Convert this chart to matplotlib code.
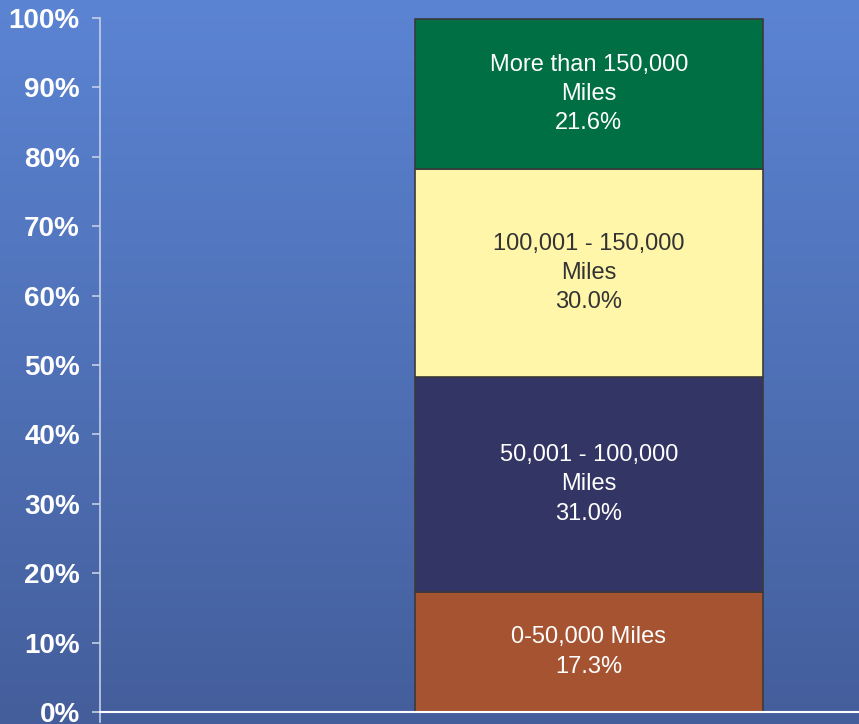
# Stacked share of vehicles by odometer mileage

import numpy as np
import matplotlib.pyplot as plt

plt.rcParams['font.family'] = ['Liberation Sans', 'DejaVu Sans']

# Data
segments = ['0-50,000 Miles', '50,001 - 100,000\nMiles',
            '100,001 - 150,000\nMiles', 'More than 150,000\nMiles']
shares = [17.3, 31.0, 30.0, 21.6]
colors = ['#a65332', '#333564', '#fff6aa', '#006f44']
text_colors = ['white', 'white', '#333333', 'white']

fig = plt.figure(figsize=(8.59, 7.24), dpi=100)

# Blue gradient backdrop
bg = fig.add_axes([0, 0, 1, 1], zorder=0)
grad = np.linspace(0, 1, 256).reshape(-1, 1)
top = np.array([0x5b, 0x84, 0xd3]) / 255
bot = np.array([0x44, 0x5e, 0x9b]) / 255
img = top + (bot - top) * grad[:, :, None]
bg.imshow(img, aspect='auto', extent=[0, 1, 0, 1])
bg.axis('off')

ax = fig.add_axes([100 / 859, 12 / 724, 759 / 859, 694 / 724], zorder=1)
ax.patch.set_alpha(0)

bottom = 0
for seg, val, col, tcol in zip(segments, shares, colors, text_colors):
    ax.bar(0.644, val, width=0.4585, bottom=bottom, color=col,
           edgecolor='#3a3a3a', linewidth=1.2)
    ax.text(0.644, bottom + val / 2, f'{seg}\n{val:.1f}%', ha='center',
            va='center', color=tcol, fontsize=17, linespacing=1.42)
    bottom += val

ax.set_xlim(0, 1)
ax.set_ylim(0, 100)
ax.set_yticks(np.arange(0, 101, 10))
ax.set_yticklabels([f'{t}%' for t in range(0, 101, 10)])
ax.set_xticks([])
for lbl in ax.get_yticklabels():
    lbl.set_fontweight('bold')
    lbl.set_fontsize(20)
    lbl.set_color('white')
ax.tick_params(axis='y', length=6, width=1.2, color='#c5cfe6', pad=8.5)

for side in ['top', 'right']:
    ax.spines[side].set_visible(False)
ax.spines['left'].set_color('#c5cfe6')
ax.spines['left'].set_linewidth(1.2)
ax.spines['left'].set_bounds(-1.5, 100)
ax.spines['bottom'].set_color('white')
ax.spines['bottom'].set_linewidth(1.5)

plt.savefig('out.png', dpi=100)
